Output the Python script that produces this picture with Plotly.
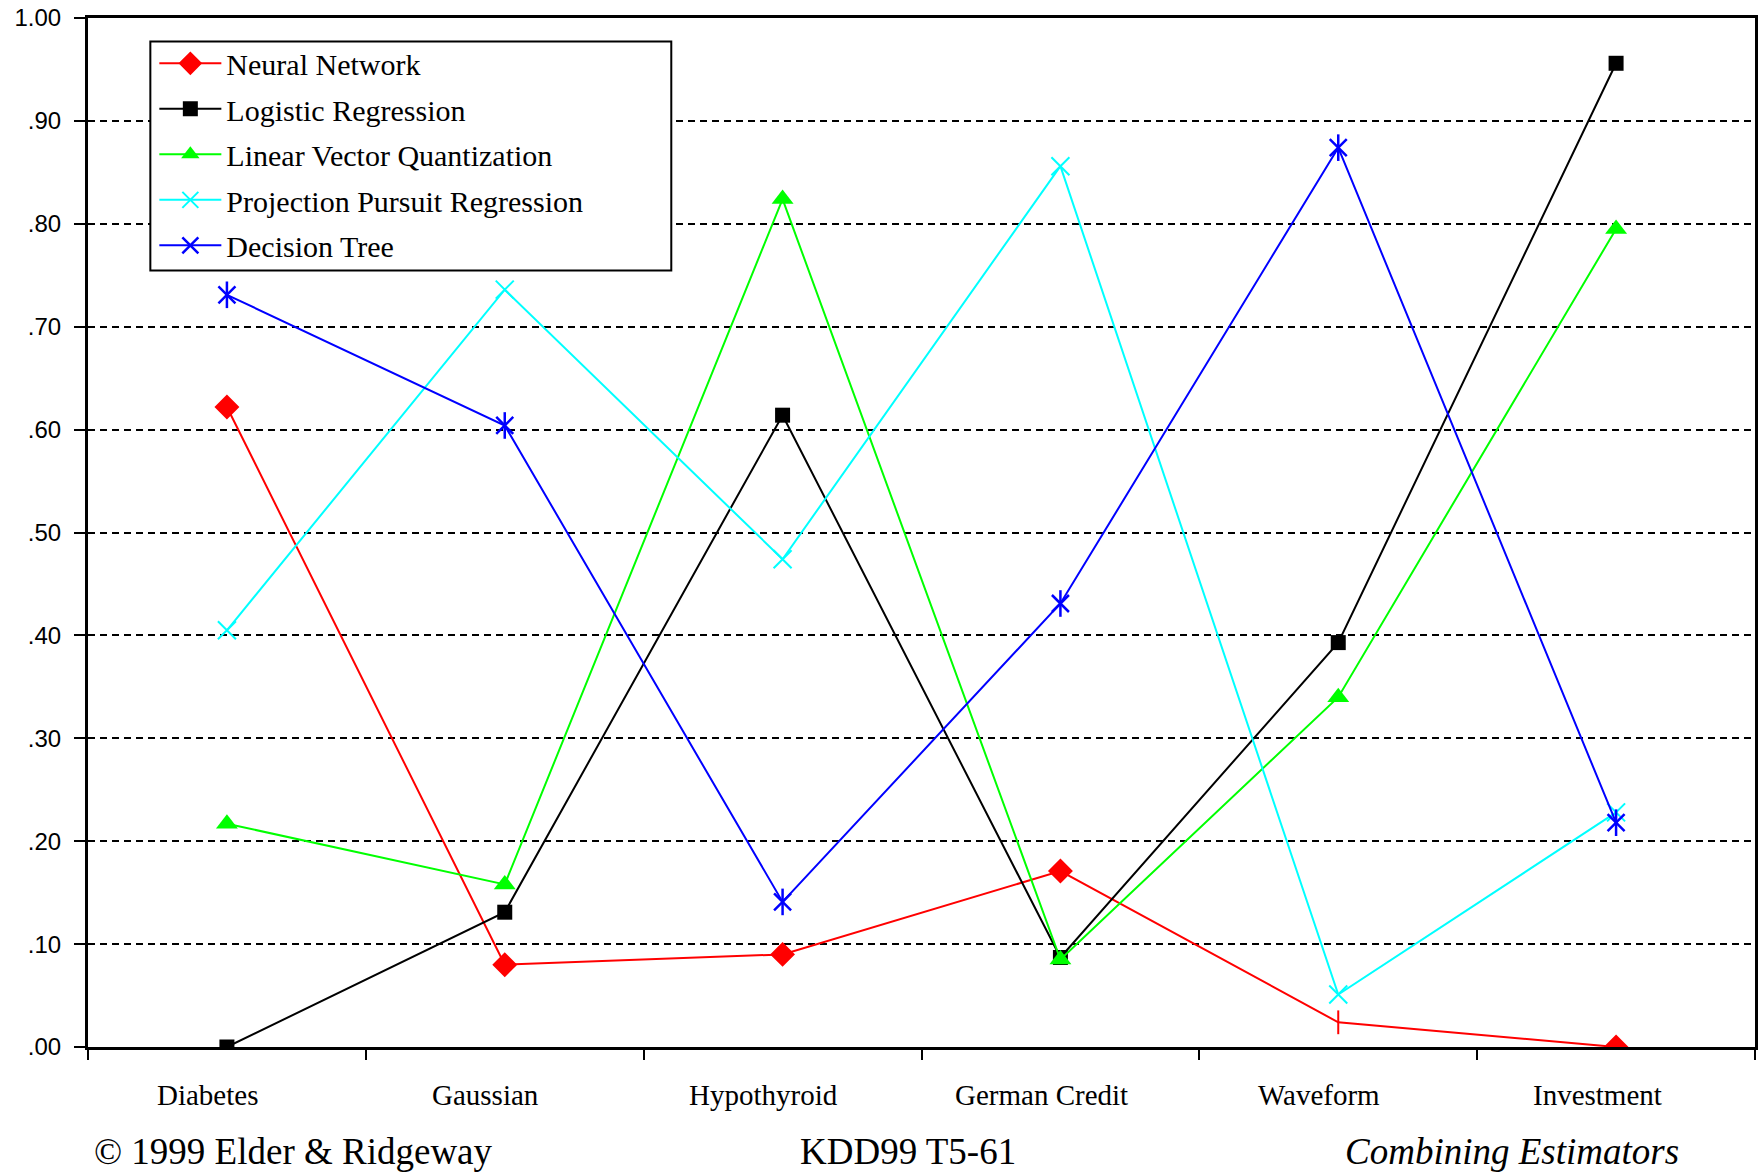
import plotly.graph_objects as go

# Problems (x categories)
problems = ["Diabetes", "Gaussian", "Hypothyroid", "German Credit", "Waveform", "Investment"]

# Relative out-of-sample error for each estimator, per problem
neural_network = [0.622, 0.080, 0.090, 0.171, 0.024, 0.000]
logistic_regression = [0.000, 0.131, 0.614, 0.087, 0.393, 0.956]
linear_vector_quantization = [0.217, 0.158, 0.824, 0.085, 0.340, 0.795]
projection_pursuit = [0.405, 0.736, 0.474, 0.856, 0.051, 0.228]
decision_tree = [0.731, 0.604, 0.141, 0.431, 0.874, 0.218]

y_ticks = [0.0, 0.1, 0.2, 0.3, 0.4, 0.5, 0.6, 0.7, 0.8, 0.9, 1.0]
y_tick_labels = [".00", ".10", ".20", ".30", ".40", ".50", ".60", ".70", ".80", ".90", "1.00"]

x_pos = list(range(len(problems)))
serif = "Liberation Serif, Times New Roman, serif"
sans = "Liberation Sans, Arial, sans-serif"

fig = go.Figure()

# Neural network: diamonds, with a thin tick at Waveform
nn_symbols = ["diamond"] * len(problems)
nn_symbols[4] = "line-ns-open"
fig.add_trace(go.Scatter(
    x=x_pos, y=neural_network, mode="lines+markers", name="Neural Network",
    legendgroup="nn",
    line=dict(color="#ff0000", width=2),
    marker=dict(symbol=nn_symbols, size=17, color="#ff0000",
                line=dict(color="#ff0000", width=2)),
))
fig.add_trace(go.Scatter(
    x=x_pos, y=logistic_regression, mode="lines+markers", name="Logistic Regression",
    legendgroup="lr",
    line=dict(color="#000000", width=2),
    marker=dict(symbol="square", size=15, color="#000000"),
))
fig.add_trace(go.Scatter(
    x=x_pos, y=linear_vector_quantization, mode="lines+markers",
    name="Linear Vector Quantization", legendgroup="lvq",
    line=dict(color="#00ff00", width=2),
    marker=dict(symbol="triangle-up", size=19, color="#00ff00"),
))
fig.add_trace(go.Scatter(
    x=x_pos, y=projection_pursuit, mode="lines+markers",
    name="Projection Pursuit Regression", legendgroup="ppr",
    line=dict(color="#00ffff", width=2),
    marker=dict(symbol="x-thin-open", size=18, color="#00ffff",
                line=dict(color="#00ffff", width=2)),
))
fig.add_trace(go.Scatter(
    x=x_pos, y=decision_tree, mode="lines+markers", name="Decision Tree",
    legendgroup="dt",
    line=dict(color="#0000ff", width=2),
    marker=dict(symbol="x-thin-open", size=17, color="#0000ff",
                line=dict(color="#0000ff", width=2.5)),
))
# vertical stroke completing the six-armed star marker
fig.add_trace(go.Scatter(
    x=x_pos, y=decision_tree, mode="markers", legendgroup="dt", showlegend=False,
    marker=dict(symbol="line-ns-open", size=19, color="#0000ff",
                line=dict(color="#0000ff", width=2.5)),
    hoverinfo="skip",
))

annotations = []
for i, p in enumerate(problems):
    annotations.append(dict(
        x=i, y=0, xref="x", yref="paper", text=p, showarrow=False,
        xanchor="center", yanchor="middle", xshift=-19, yshift=-48,
        font=dict(family=serif, size=29, color="black"),
    ))

footer_font = dict(family=serif, size=37, color="black")
annotations += [
    dict(x=0.0024, y=0, xref="paper", yref="paper", text="© 1999 Elder & Ridgeway",
         showarrow=False, xanchor="left", yanchor="middle", yshift=-104,
         font=footer_font),
    dict(x=0.492, y=0, xref="paper", yref="paper", text="KDD99 T5-61",
         showarrow=False, xanchor="center", yanchor="middle", yshift=-104,
         font=footer_font),
    dict(x=0.9557, y=0, xref="paper", yref="paper", text="<i>Combining Estimators</i>",
         showarrow=False, xanchor="right", yanchor="middle", yshift=-104,
         font=footer_font),
]

# Framed white panel behind the legend entries
legend_box = dict(
    type="rect", xref="paper", yref="paper",
    x0=0.0374, x1=0.3499, y0=0.7546, y1=0.9772,
    fillcolor="white", line=dict(color="black", width=2), layer="above",
)

fig.update_layout(
    width=1760, height=1175,
    margin=dict(l=88, r=2, t=18, b=128),
    paper_bgcolor="white", plot_bgcolor="white",
    showlegend=True,
    legend=dict(
        x=0.0398, y=0.9812, xanchor="left", yanchor="top",
        bgcolor="rgba(0,0,0,0)", borderwidth=0,
        font=dict(family=serif, size=30, color="black"),
        itemwidth=62, tracegroupgap=3.5, traceorder="grouped",
    ),
    shapes=[legend_box],
    annotations=annotations,
    xaxis=dict(
        range=[-0.5, 5.5], tickmode="array",
        tickvals=[i - 0.5 for i in range(len(problems) + 1)],
        showticklabels=False, ticks="outside", ticklen=10, tickwidth=2,
        tickcolor="black", showgrid=False, zeroline=False,
        showline=True, linecolor="black", linewidth=3, mirror=True,
    ),
    yaxis=dict(
        range=[0, 1], tickmode="array", tickvals=y_ticks, ticktext=y_tick_labels,
        ticks="outside", ticklen=11, tickwidth=2, tickcolor="black",
        ticklabelstandoff=8,
        tickfont=dict(family=sans, size=24, color="black"),
        showgrid=True, gridcolor="black", gridwidth=2, griddash="7px,5px",
        zeroline=False, showline=True, linecolor="black", linewidth=3, mirror=True,
    ),
)

fig.write_html("out.html")
